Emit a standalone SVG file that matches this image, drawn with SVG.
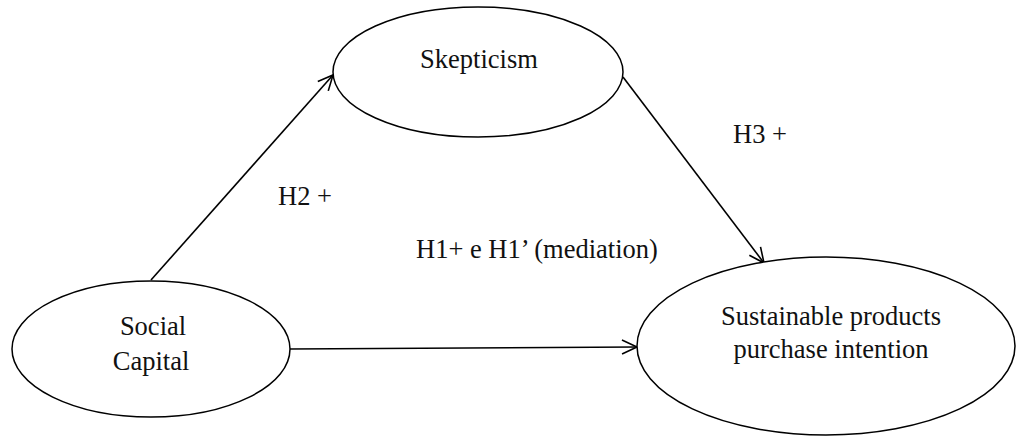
<svg xmlns="http://www.w3.org/2000/svg" width="1016" height="437" viewBox="0 0 1016 437">
<style>
.n{fill:#fff;stroke:#000;stroke-width:1.5}
.t{font-family:"Liberation Serif","Times New Roman",serif;font-size:26.5px;fill:#111}
.c{text-anchor:middle}
.e{stroke:#000;stroke-width:1.6;fill:none;marker-end:url(#a)}
</style>
<defs>
<marker id="a" markerUnits="userSpaceOnUse" markerWidth="20" markerHeight="20" refX="16" refY="8" orient="auto" viewBox="0 0 20 16">
<path d="M1,1 L16,8 L1,15" fill="none" stroke="#000" stroke-width="1.6"/>
</marker>
</defs>
<rect width="1016" height="437" fill="#fff"/>
<g id="connectors">
<line class="e" x1="151" y1="280" x2="333" y2="75"/>
<line class="e" x1="623" y1="77" x2="764" y2="263"/>
<line class="e" x1="290" y1="349" x2="637" y2="347"/>
</g>
<g id="skepticism">
<ellipse class="n" cx="478" cy="72" rx="145" ry="65"/>
<text class="t c" x="479" y="68">Skepticism</text>
</g>
<g id="social-capital">
<ellipse class="n" cx="151" cy="349" rx="139" ry="68"/>
<text class="t c" x="153" y="335">Social</text>
<text class="t c" x="151" y="370">Capital</text>
</g>
<g id="purchase-intention">
<ellipse class="n" cx="826" cy="346" rx="189" ry="89"/>
<text class="t c" x="831" y="325">Sustainable products</text>
<text class="t c" x="831" y="358">purchase intention</text>
</g>
<g id="labels">
<text class="t" x="278" y="205">H2 +</text>
<text class="t" x="733" y="143">H3 +</text>
<text class="t" x="416" y="258">H1+ e H1’ (mediation)</text>
</g>
</svg>
